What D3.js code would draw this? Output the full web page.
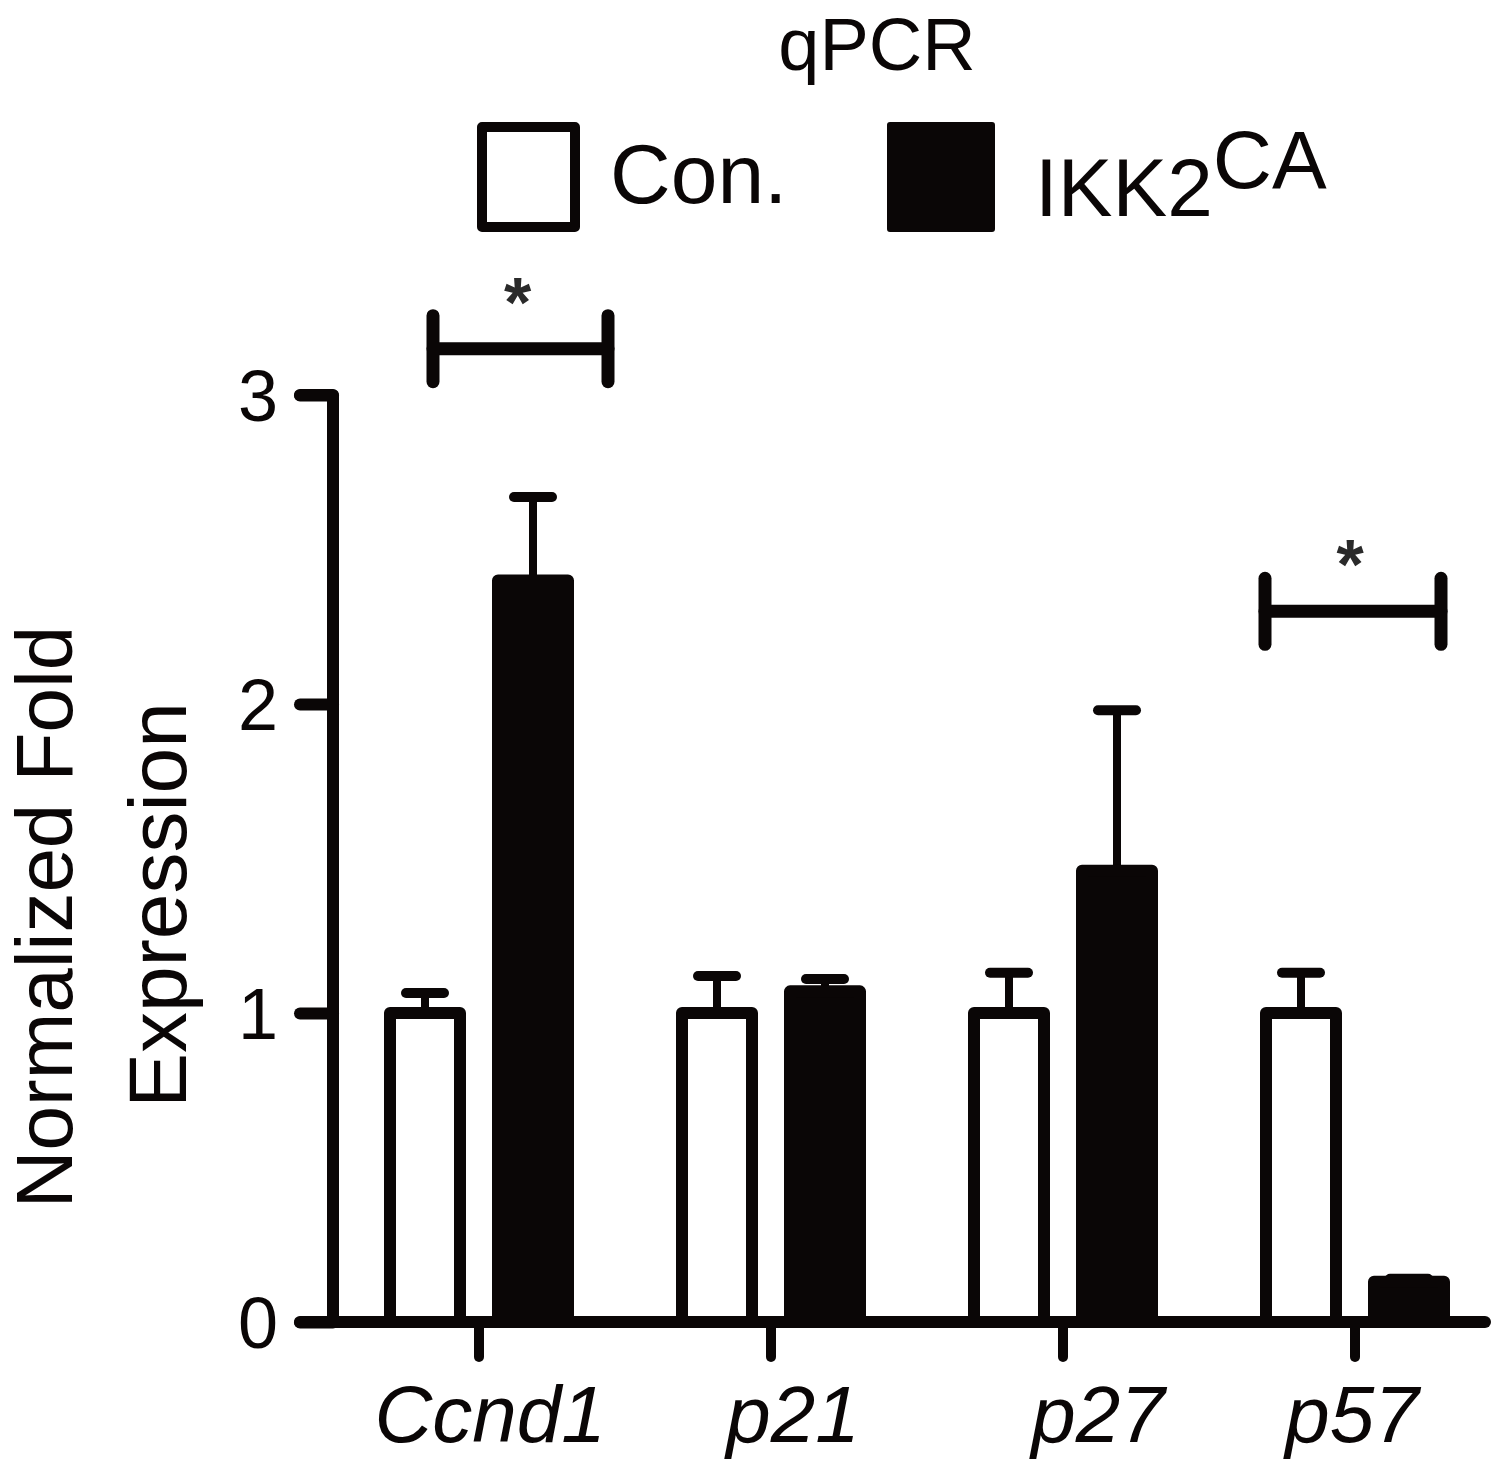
<!DOCTYPE html>
<html>
<head>
<meta charset="utf-8">
<script src="https://cdn.jsdelivr.net/npm/d3@7"></script>
<style>
  html, body { margin: 0; padding: 0; background: #fff; }
  svg { display: block; }
  text { font-family: "Liberation Sans", Arial, Helvetica, sans-serif; }
</style>
</head>
<body>
<svg id="chart" width="1502" height="1466"></svg>
<script>
// ---- data ----
const categories = ["Ccnd1", "p21", "p27", "p57"];
const groups = ["Con.", "IKK2"];
const conMeans = [1.00, 1.00, 1.00, 1.00];
const conErrors = [0.065, 0.12, 0.13, 0.13];
const ikkMeans = [2.40, 1.07, 1.46, 0.13];
const ikkErrors = [0.27, 0.04, 0.52, 0.01];
const yTicks = [0, 1, 2, 3];
const sigCategories = ["Ccnd1", "p57"];
const sigLevels = [3.15, 2.30];
const sigLabels = ["*", "*"];

// ---- layout constants ----
const INK = "#0a0606";
const labelDx = [11, 22, 35, -3];
const bracketSpan = [[-46, 129], [-90, 86]];

const svg = d3.select("#chart");

const y = d3.scaleLinear().domain([0, 3]).range([1322, 395]);
const x = d3.scaleBand().domain(categories).range([333, 1501]).paddingInner(0).paddingOuter(0);
const xSub = d3.scaleBand().domain(groups).range([38, 254]);

const barW = 70;
const data = [];
categories.forEach((c, i) => {
  data.push({cat: c, group: groups[0], mean: conMeans[i], err: conErrors[i]});
  data.push({cat: c, group: groups[1], mean: ikkMeans[i], err: ikkErrors[i]});
});
const cx = d => x(d.cat) + xSub(d.group) + xSub.bandwidth() / 2;

// error bars (drawn under bars)
const eb = svg.append("g");
eb.selectAll("line.stem").data(data).join("line")
  .attr("x1", cx).attr("x2", cx)
  .attr("y1", d => y(d.mean)).attr("y2", d => y(d.mean + d.err))
  .attr("stroke", INK).attr("stroke-width", 8);
eb.selectAll("line.cap").data(data).join("line")
  .attr("x1", d => cx(d) - 19).attr("x2", d => cx(d) + 19)
  .attr("y1", d => y(d.mean + d.err)).attr("y2", d => y(d.mean + d.err))
  .attr("stroke", INK).attr("stroke-width", 10).attr("stroke-linecap", "round");

// bars
svg.append("g").selectAll("rect").data(data).join("rect")
  .attr("x", d => cx(d) - barW / 2)
  .attr("width", barW)
  .attr("y", d => y(d.mean))
  .attr("height", d => y(0) - y(d.mean))
  .attr("fill", d => d.group === groups[0] ? "#fff" : INK)
  .attr("stroke", INK).attr("stroke-width", 12).attr("stroke-linejoin", "round");

// y axis
const yAxis = d3.axisLeft(y).tickValues(yTicks).tickFormat(d3.format("d")).tickSize(33).tickPadding(22);
const gy = svg.append("g").attr("transform", "translate(333,0)").call(yAxis);
gy.select(".domain").remove();
gy.selectAll(".tick line").attr("stroke", INK).attr("stroke-width", 12).attr("stroke-linecap", "round");
gy.selectAll(".tick text").attr("fill", INK).style("font-size", "72px").attr("dy", "0.36em");
svg.append("path")
  .attr("d", d3.line()([[300, y(3)], [333, y(3)], [333, y(0)]]))
  .attr("fill", "none").attr("stroke", INK).attr("stroke-width", 12)
  .attr("stroke-linejoin", "round").attr("stroke-linecap", "round");

// x axis
const xAxis = d3.axisBottom(x).tickSize(35).tickFormat("");
const gx = svg.append("g").attr("transform", `translate(0,${y(0)})`).call(xAxis);
gx.select(".domain").remove();
gx.selectAll(".tick line").attr("stroke", INK).attr("stroke-width", 10).attr("stroke-linecap", "round");
svg.append("line")
  .attr("x1", 300).attr("x2", 1485).attr("y1", y(0)).attr("y2", y(0))
  .attr("stroke", INK).attr("stroke-width", 12).attr("stroke-linecap", "round");

svg.append("g").selectAll("text").data(categories).join("text")
  .attr("x", (d, i) => x(d) + x.bandwidth() / 2 + labelDx[i])
  .attr("y", 1442)
  .attr("text-anchor", "middle")
  .attr("fill", INK)
  .style("font-size", "80px").style("font-style", "italic")
  .text(d => d);

// y title
svg.append("text").attr("transform", "translate(72,917) rotate(-90)")
  .attr("text-anchor", "middle").attr("fill", INK).style("font-size", "80px").text("Normalized Fold");
svg.append("text").attr("transform", "translate(186,905) rotate(-90)")
  .attr("text-anchor", "middle").attr("fill", INK).style("font-size", "82px").text("Expression");

// significance brackets
sigCategories.forEach((c, i) => {
  const c0 = x(c) + x.bandwidth() / 2;
  const xl = c0 + bracketSpan[i][0], xr = c0 + bracketSpan[i][1];
  const yy = y(sigLevels[i]);
  const g = svg.append("g").attr("stroke", INK).attr("stroke-width", 13).attr("stroke-linecap", "round");
  g.append("line").attr("x1", xl).attr("x2", xr).attr("y1", yy).attr("y2", yy);
  g.append("line").attr("x1", xl).attr("x2", xl).attr("y1", yy - 33).attr("y2", yy + 33);
  g.append("line").attr("x1", xr).attr("x2", xr).attr("y1", yy - 33).attr("y2", yy + 33);
  svg.append("text").attr("x", (xl + xr) / 2 - 3)
    .attr("y", yy - 22).attr("text-anchor", "middle").attr("fill", "#2a2a2a")
    .style("font-size", "70px").style("font-weight", "bold").text(sigLabels[i]);
});

// title
svg.append("text").attr("x", 877).attr("y", 70).attr("text-anchor", "middle")
  .attr("fill", INK).style("font-size", "74px").text("qPCR");

// legend
svg.append("rect").attr("x", 482).attr("y", 127).attr("width", 93).attr("height", 100)
  .attr("fill", "#fff").attr("stroke", INK).attr("stroke-width", 10).attr("stroke-linejoin", "round");
svg.append("text").attr("x", 610).attr("y", 203).attr("fill", INK).style("font-size", "84px").text(groups[0]);
svg.append("rect").attr("x", 890).attr("y", 125).attr("width", 102).attr("height", 104)
  .attr("fill", INK).attr("stroke", INK).attr("stroke-width", 6).attr("stroke-linejoin", "round");
const lt = svg.append("text").attr("x", 1035).attr("y", 216).attr("fill", INK).style("font-size", "82px");
lt.append("tspan").text("IKK2");
lt.append("tspan").attr("dy", -28).text("CA");
</script>
</body>
</html>
